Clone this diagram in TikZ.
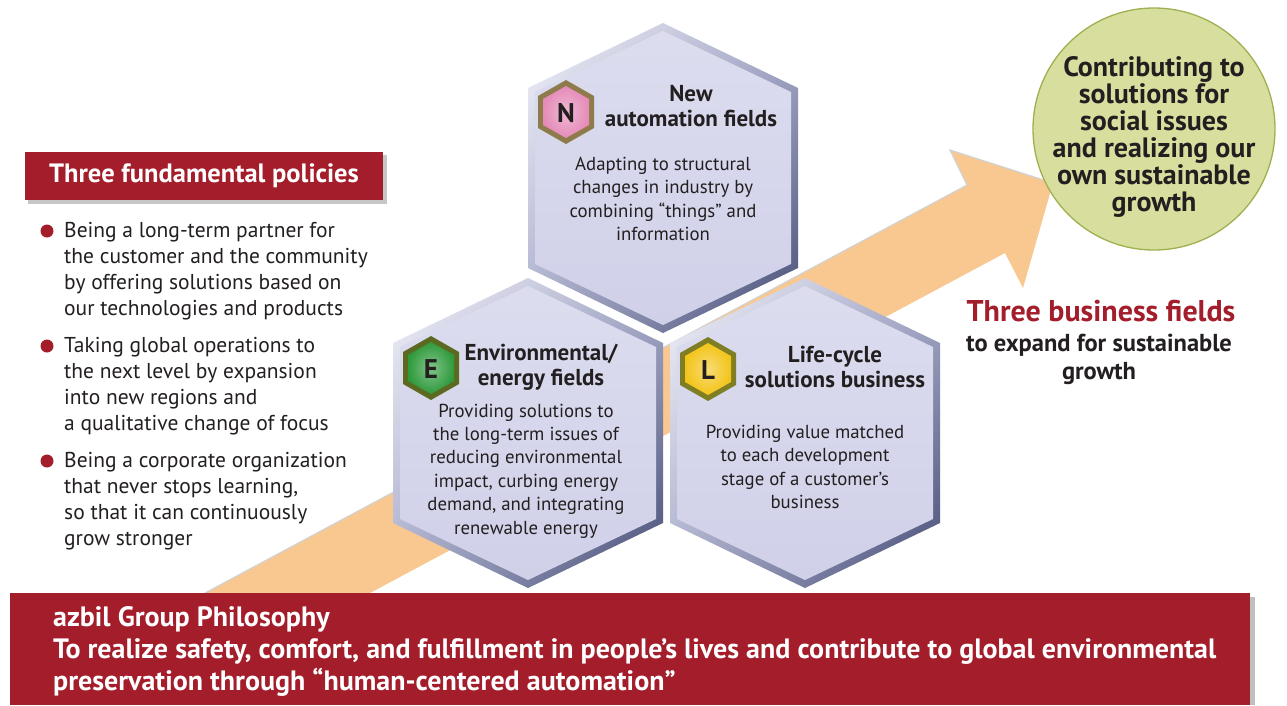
\documentclass[tikz,border=0pt]{standalone}
\usepackage{fontspec}
\usetikzlibrary{shadings}
\setmainfont{PT Sans}
\definecolor{azred}{HTML}{A31D2B}
\definecolor{arrowor}{HTML}{F8C890}
\definecolor{circfill}{HTML}{D8DF9E}
\definecolor{circedge}{HTML}{9FB04F}
\definecolor{hexfill}{HTML}{D0D1E9}
\definecolor{hexhi}{HTML}{F4F4FB}
\definecolor{hexmid}{HTML}{A9ADCB}
\definecolor{hexlo}{HTML}{444B73}
\definecolor{ink}{HTML}{231F20}
\definecolor{pinkin}{HTML}{E58BB8}
\definecolor{pinkrim}{HTML}{8E7B4C}
\definecolor{greenin}{HTML}{2F9A3C}
\definecolor{greenrim}{HTML}{5B6A20}
\definecolor{yellowin}{HTML}{F3C419}
\definecolor{yellowrim}{HTML}{7F7E25}
\tikzset{
  hextitle/.style={font=\bfseries\fontsize{23}{24.5}\selectfont, text=ink, align=center, inner sep=0pt},
  hexbody/.style={font=\fontsize{18.8}{23.4}\selectfont, text=ink, align=center, inner sep=0pt},
  bullettext/.style={font=\fontsize{21.5}{26}\selectfont, text=ink, align=left, anchor=west, inner sep=0pt},
  bulletdot/.style={circle, fill=azred, minimum size=13pt, inner sep=0pt},
  letterlbl/.style={font=\bfseries\fontsize{27}{27}\selectfont, text=ink, inner sep=0pt},
  bartext/.style={font=\bfseries\fontsize{28}{32}\selectfont, text=white, align=left, anchor=west, inner sep=0pt}
}
\newcommand\bighex[1]{%
  \begin{scope}[shift={#1}]
    \shade[upper left=hexhi, upper right=hexmid, lower left=hexmid, lower right=hexlo]
      (0,-155)--(135,-90)--(135,90)--(0,155)--(-135,90)--(-135,-90)--cycle;
    \shade[top color=hexfill!75!white, bottom color=hexfill]
      (0,-147)--(128,-86)--(128,86)--(0,147)--(-128,86)--(-128,-86)--cycle;
  \end{scope}}
\newcommand\badgehex[3]{%
  \begin{scope}[shift={#1}]
    \fill[#2] (0,-32)--(28,-16)--(28,16)--(0,32)--(-28,16)--(-28,-16)--cycle;
    \shade[inner color=#3!60!white, outer color=#3]
      (0,-26)--(23,-13)--(23,13)--(0,26)--(-23,13)--(-23,-13)--cycle;
  \end{scope}}
\begin{document}
\begin{tikzpicture}[x=1pt,y=-1pt]
\useasboundingbox (0,0) rectangle (1287,705);
\fill[white] (0,0) rectangle (1287,705);

% big arrow
\fill[arrowor] (205,593)--(967,185)--(950,150)--(1053,183)--(1023,288)--(1005,253)--(370,593)--cycle;
\draw[gray!35, line width=1.2pt] (205,593)--(967,185)--(950,150)--(1053,183);

% green circle
\node[circle, fill=circfill, draw=circedge, line width=1.3pt, minimum size=242pt, inner sep=0pt] (goal) at (1154,129) {};
\node[font=\bfseries\fontsize{28}{27}\selectfont, text=ink, align=center, inner sep=0pt] (goaltext) at (1154,137)
  {Contributing to\\solutions for\\social issues\\and realizing our\\own sustainable\\growth};

% hexagons
\bighex{(663,178)}
\bighex{(528,433)}
\bighex{(805,433)}

% badges
\badgehex{(566,112)}{pinkrim}{pinkin}
\badgehex{(431,368)}{greenrim}{greenin}
\badgehex{(708,369)}{yellowrim}{yellowin}
\node[letterlbl] (nletter) at (566,113) {N};
\node[letterlbl] (eletter) at (431,369) {E};
\node[letterlbl] (lletter) at (708,370) {L};

% hex texts
\node[hextitle] (ntitle) at (691,106) {New\\automation fields};
\node[hexbody] (nbody) at (663,199) {Adapting to structural\\changes in industry by\\combining “things” and\\information};
\node[hextitle] (etitle) at (541,367) {Environmental/\\energy fields};
\node[hexbody] (ebody) at (526,471) {Providing solutions to\\the long-term issues of\\reducing environmental\\impact, curbing energy\\demand, and integrating\\renewable energy};
\node[hextitle] (ltitle) at (835,367) {Life-cycle\\solutions business};
\node[hexbody] (lbody) at (805,467) {Providing value matched\\to each development\\stage of a customer's\\business};

% left title box
\fill[gray!45] (28,155) rectangle (387,204);
\node[fill=azred, minimum width=358pt, minimum height=48pt, inner sep=0pt,
      font=\bfseries\fontsize{26.5}{26.5}\selectfont, text=white] (policies) at (204,176) {Three fundamental policies};

% bullets
\node[bulletdot] (dot1) at (47,231) {};
\node[bulletdot] (dot2) at (47,346) {};
\node[bulletdot] (dot3) at (47,461) {};
\node[bullettext] (b1) at (64,271) {Being a long-term partner for\\the customer and the community\\by offering solutions based on\\our technologies and products};
\node[bullettext] (b2) at (64,386) {Taking global operations to\\the next level by expansion\\into new regions and\\a qualitative change of focus};
\node[bullettext] (b3) at (64,501) {Being a corporate organization\\that never stops learning,\\so that it can continuously\\grow stronger};

% three business fields
\node[font=\bfseries\fontsize{30}{30}\selectfont, text=azred, inner sep=0pt] (tbf) at (1101,311) {Three business fields};
\node[font=\bfseries\fontsize{24.5}{28}\selectfont, text=ink, align=center, inner sep=0pt] (tbfsub) at (1099,359) {to expand for sustainable\\growth};

% bottom bar
\fill[gray!50] (14,597) rectangle (1255,705);
\fill[azred] (10,593) rectangle (1250,705);
\node[bartext] (phil) at (53,651) {azbil Group Philosophy\\To realize safety, comfort, and fulfillment in people’s lives and contribute to global environmental\\preservation through “human-centered automation”};
\end{tikzpicture}
\end{document}
